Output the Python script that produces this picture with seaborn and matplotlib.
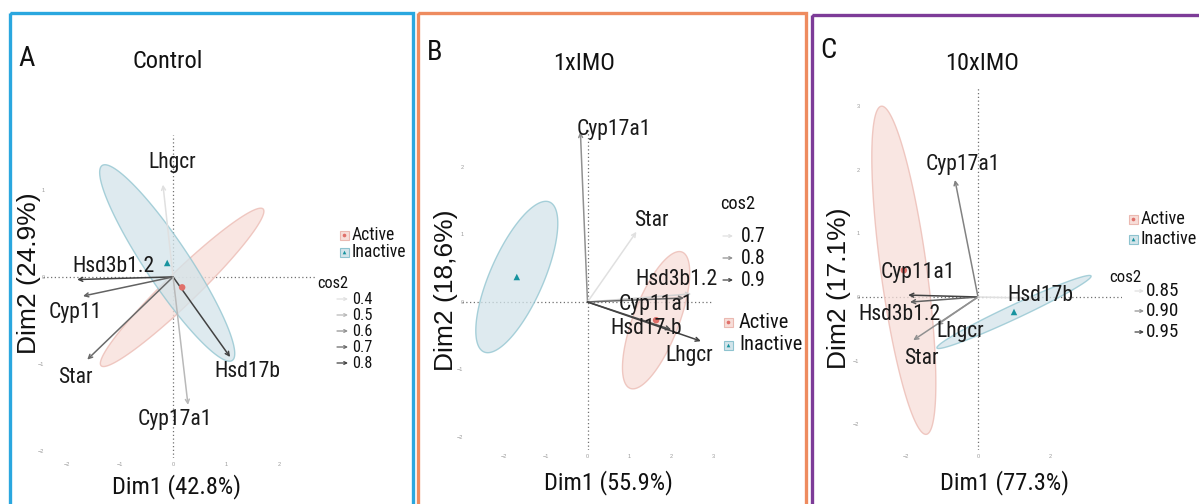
import os
import numpy as np
import pandas as pd
import matplotlib
matplotlib.use("Agg")
import matplotlib.pyplot as plt
import seaborn as sns
from matplotlib import font_manager as fm
from matplotlib.font_manager import FontProperties
from matplotlib.patches import Polygon, Rectangle

sns.set_style("white")
plt.rcParams["font.family"] = ["Liberation Sans", "DejaVu Sans"]

# ---------------- data ----------------
groups = ["Active", "Inactive"]

# Control
genes_A = ["Lhgcr", "Hsd3b1.2", "Cyp11", "Star", "Hsd17b", "Cyp17a1"]
dim1_A = [-0.19, -1.80, -1.69, -1.61, 1.07, 0.28]
dim2_A = [1.06, -0.03, -0.22, -0.95, -0.92, -1.47]
cos2_A = [0.40, 0.80, 0.72, 0.70, 0.80, 0.50]
cent1_A = [0.17, -0.11]
cent2_A = [-0.12, 0.16]
ell_major_A = [(1.52, 0.90), (1.22, -1.12)]
ell_minor_A = [(0.208, -0.132), (0.343, 0.140)]
cos2_breaks_A = [0.4, 0.5, 0.6, 0.7, 0.8]

# 1xIMO
genes_B = ["Cyp17a1", "Star", "Hsd3b1.2", "Cyp11a1", "Hsd17.b", "Lhgcr"]
dim1_B = [-0.17, 1.17, 2.48, 2.31, 2.00, 2.71]
dim2_B = [2.52, 1.04, 0.12, 0.06, -0.41, -0.58]
cos2_B = [0.80, 0.66, 0.72, 0.85, 0.88, 0.92]
cent1_B = [1.64, -1.69]
cent2_B = [-0.27, 0.37]
ell_major_B = [(0.62, 1.01), (0.786, 1.11)]
ell_minor_B = [(0.512, -0.121), (0.586, -0.16)]
cos2_breaks_B = [0.7, 0.8, 0.9]

# 10xIMO
genes_C = ["Cyp17a1", "Cyp11a1", "Hsd3b1.2", "Lhgcr", "Star", "Hsd17b"]
dim1_C = [-0.64, -1.94, -1.89, -1.14, -1.80, 1.60]
dim2_C = [1.84, 0.03, -0.08, -0.44, -0.68, -0.02]
cos2_C = [0.91, 0.95, 0.93, 0.90, 0.90, 0.83]
cent1_C = [-2.06, 1.00]
cent2_C = [0.42, -0.236]
ell_major_C = [(0.625, -2.58), (2.14, 0.566)]
ell_minor_C = [(0.633, 0.049), (0.083, -0.099)]
cos2_breaks_C = ["0.85", "0.90", "0.95"]


# ---------------- fonts ----------------
def pick_narrow_font():
    """Return (path, width factor relative to Arial) of a regular condensed sans."""
    prefs = [("LiberationSansNarrow-Regular", 0.82), ("RobotoCondensed-Regular", 0.84),
             ("NotoSans-Condensed.", 0.86), ("NotoSans-Condensed-", 0.86),
             ("OpenSans-CondensedRegular", 0.85), ("OpenSans_Condensed-Regular", 0.85),
             ("DejaVuSansCondensed.", 1.0)]
    files = [f.fname for f in fm.fontManager.ttflist]
    for key, fac in prefs:
        for fn in files:
            if key in os.path.basename(fn):
                return fn, fac
    return None, 1.0


NARROW_FILE, WFAC = pick_narrow_font()
SCALE = 0.82 / WFAC


def nfont(size):
    if NARROW_FILE:
        return FontProperties(fname=NARROW_FILE, size=size * SCALE)
    return FontProperties(family="Liberation Sans", size=size * SCALE)


# ---------------- layout ----------------
W, H = 1199, 504
fig = plt.figure(figsize=(W / 100, H / 100), dpi=100)

FILL = {"Active": "#f7ded9", "Inactive": "#d3e4ea"}
EDGE = {"Active": "#ebb9b1", "Inactive": "#8ec3cf"}
PT = {"Active": "#e0706a", "Inactive": "#17939f"}
MARK = {"Active": "o", "Inactive": "^"}

panels = [
    dict(letter="A", title="Control", border="#2aa7df", frame=(10, 13, 413),
         box=(43, 135, 317, 458), xlim=(-2.44, 2.70), ylim=(-2.08, 1.63),
         xt=[-2, -1, 0, 1, 2], yt=[-2, -1, 0, 1],
         genes=genes_A, d1=dim1_A, d2=dim2_A, cos2=cos2_A,
         c1=cent1_A, c2=cent2_A, maj=ell_major_A, mnr=ell_minor_A,
         lab=[(-0.02, 1.31), (-1.11, 0.115), (-1.84, -0.41), (-1.84, -1.16), (1.39, -1.09), (0.04, -1.64)],
         breaks=cos2_breaks_A,
         xlabel="Dim1 (42.8%)", ylabel="Dim2 (24.9%)",
         letter_xy=(27, 58), title_xy=(168, 62), xlab_xy=(176, 487), ylab_xy=(29, 273),
         grp_xy=(344, 352, [235, 252]), cos_title=(333, 283), cos_x=(337, 348, 352),
         cos_rows=[299, 315, 331, 347, 363], cos_fs=12, cos_title_fs=12, grp_fs=13),
    dict(letter="B", title="1xIMO", border="#ee8b5f", frame=(418, 13, 806),
         box=(462, 130, 713, 450), xlim=(-3.0, 2.976), ylim=(-2.193, 2.548),
         xt=[-2, -1, 0, 1, 2, 3], yt=[-2, -1, 0, 1, 2],
         genes=genes_B, d1=dim1_B, d2=dim2_B, cos2=cos2_B,
         c1=cent1_B, c2=cent2_B, maj=ell_major_B, mnr=ell_minor_B,
         lab=[(0.64, 2.55), (1.52, 1.21), (2.12, 0.34), (1.64, -0.03), (1.40, -0.39), (2.43, -0.80)],
         breaks=cos2_breaks_B,
         xlabel="Dim1 (55.9%)", ylabel="Dim2 (18,6%)",
         letter_xy=(435, 53), title_xy=(584, 63), xlab_xy=(608, 483), ylab_xy=(446, 290),
         grp_xy=(728, 739, [322, 345]), cos_title=(738, 204), cos_x=(723, 733, 741),
         cos_rows=[236, 258, 280], cos_fs=14.5, cos_title_fs=13.5, grp_fs=15),
    dict(letter="C", title="10xIMO", border="#7d3c98", frame=(812, 15, 1210),
         box=(858, 88, 1122, 450), xlim=(-3.333, 4.0), ylim=(-2.406, 3.286),
         xt=[-2, 0, 2], yt=[-2, -1, 0, 1, 2, 3],
         genes=genes_C, d1=dim1_C, d2=dim2_C, cos2=cos2_C,
         c1=cent1_C, c2=cent2_C, maj=ell_major_C, mnr=ell_minor_C,
         lab=[(-0.42, 2.08), (-1.67, 0.38), (-2.17, -0.28), (-0.5, -0.55), (-1.56, -0.96), (1.72, 0.03)],
         breaks=cos2_breaks_C,
         xlabel="Dim1 (77.3%)", ylabel="Dim2 (17.1%)",
         letter_xy=(828, 50), title_xy=(982, 63), xlab_xy=(1004, 483), ylab_xy=(839, 288),
         grp_xy=(1133, 1141, [219, 239]), cos_title=(1125, 277), cos_x=(1135, 1144, 1146),
         cos_rows=[291, 311, 332], cos_fs=14, cos_title_fs=12.5, grp_fs=13.5),
]


def gray_for(v, lo, hi):
    t = 0.0 if hi == lo else (float(v) - lo) / (hi - lo)
    t = min(max(t, 0.0), 1.0)
    g = 0.88 - 0.62 * t
    return (g, g, g)


# overlay in pixel coordinates for frames, titles and legends
over = fig.add_axes([0, 0, 1, 1], zorder=10)
over.set_xlim(0, W)
over.set_ylim(H, 0)
over.axis("off")

for p in panels:
    l, t, r, b = p["box"]
    ax = fig.add_axes([l / W, 1 - b / H, (r - l) / W, (b - t) / H])
    ax.set_xlim(*p["xlim"])
    ax.set_ylim(*p["ylim"])
    for s in ax.spines.values():
        s.set_visible(False)
    ax.set_xticks(p["xt"])
    ax.set_yticks(p["yt"])
    ax.tick_params(labelsize=4, colors="#9a9a9a", length=2, width=0.5, pad=1)
    ax.tick_params(axis="y", pad=-3)
    ax.axhline(0, ls=(0, (1, 2)), color="#707070", lw=0.9, zorder=1)
    ax.axvline(0, ls=(0, (1, 2)), color="#707070", lw=0.9, zorder=1)

    # concentration ellipses around the group means
    tt = np.linspace(0, 2 * np.pi, 240)
    for gi, g in enumerate(groups):
        cx, cy = p["c1"][gi], p["c2"][gi]
        (ux, uy), (vx, vy) = p["maj"][gi], p["mnr"][gi]
        xs = cx + ux * np.cos(tt) + vx * np.sin(tt)
        ys = cy + uy * np.cos(tt) + vy * np.sin(tt)
        ax.add_patch(Polygon(np.column_stack([xs, ys]), closed=True, facecolor=FILL[g],
                             edgecolor=EDGE[g], lw=1.0, alpha=0.75, zorder=2))

    # group means
    cent = pd.DataFrame({"Dim1": p["c1"], "Dim2": p["c2"], "group": groups})
    sns.scatterplot(data=cent, x="Dim1", y="Dim2", hue="group", style="group",
                    palette=PT, markers=MARK, s=22, linewidth=0, legend=False,
                    ax=ax, zorder=6)
    ax.set_xlabel("")
    ax.set_ylabel("")

    # variable arrows coloured by cos2
    br = [float(v) for v in p["breaks"]]
    lo, hi = min(br), max(br)
    for gname, x, y, c, (lx, ly) in zip(p["genes"], p["d1"], p["d2"], p["cos2"], p["lab"]):
        col = gray_for(c, lo, hi)
        ax.annotate("", xy=(x, y), xytext=(0, 0),
                    arrowprops=dict(arrowstyle="->", color=col, lw=1.1,
                                    mutation_scale=7, shrinkA=0, shrinkB=0),
                    zorder=4)
        ax.text(lx, ly, gname, fontproperties=nfont(16), ha="center", va="center",
                color="#1a1a1a", zorder=7)

    # frame
    fx0, fy0, fx1 = p["frame"]
    over.add_patch(Rectangle((fx0, fy0), fx1 - fx0, H + 20 - fy0, fill=False,
                             edgecolor=p["border"], lw=2.4, clip_on=False))

    # panel texts
    over.text(*p["letter_xy"], p["letter"], fontproperties=nfont(21), ha="center", va="center",
              color="#111111")
    over.text(*p["title_xy"], p["title"], fontproperties=nfont(18), ha="center", va="center",
              color="#111111")
    over.text(*p["xlab_xy"], p["xlabel"], fontproperties=nfont(18), ha="center", va="center",
              color="#111111")
    over.text(*p["ylab_xy"], p["ylabel"], fontsize=19, ha="center", va="center",
              rotation=90, color="#111111")

    # group legend
    sx, tx, rows = p["grp_xy"]
    for g, yy in zip(groups, rows):
        over.add_patch(Rectangle((sx - 4.5, yy - 4.5), 9, 9, facecolor=FILL[g],
                                 edgecolor=EDGE[g], lw=0.8))
        over.scatter([sx], [yy], s=7, marker=MARK[g], color=PT[g], linewidths=0, zorder=12)
        over.text(tx, yy, g, fontproperties=nfont(p["grp_fs"]), ha="left", va="center",
                  color="#111111")

    # cos2 legend
    over.text(*p["cos_title"], "cos2", fontproperties=nfont(p["cos_title_fs"]), ha="center",
              va="center", color="#111111")
    ax0, ax1, vx = p["cos_x"]
    for v, yy in zip(p["breaks"], p["cos_rows"]):
        col = gray_for(v, lo, hi)
        over.annotate("", xy=(ax1, yy), xytext=(ax0, yy),
                      arrowprops=dict(arrowstyle="->", color=col, lw=0.9,
                                      mutation_scale=5, shrinkA=0, shrinkB=0))
        over.text(vx, yy, str(v), fontproperties=nfont(p["cos_fs"]), ha="left", va="center",
                  color="#111111")

fig.savefig("out.png", dpi=100)
